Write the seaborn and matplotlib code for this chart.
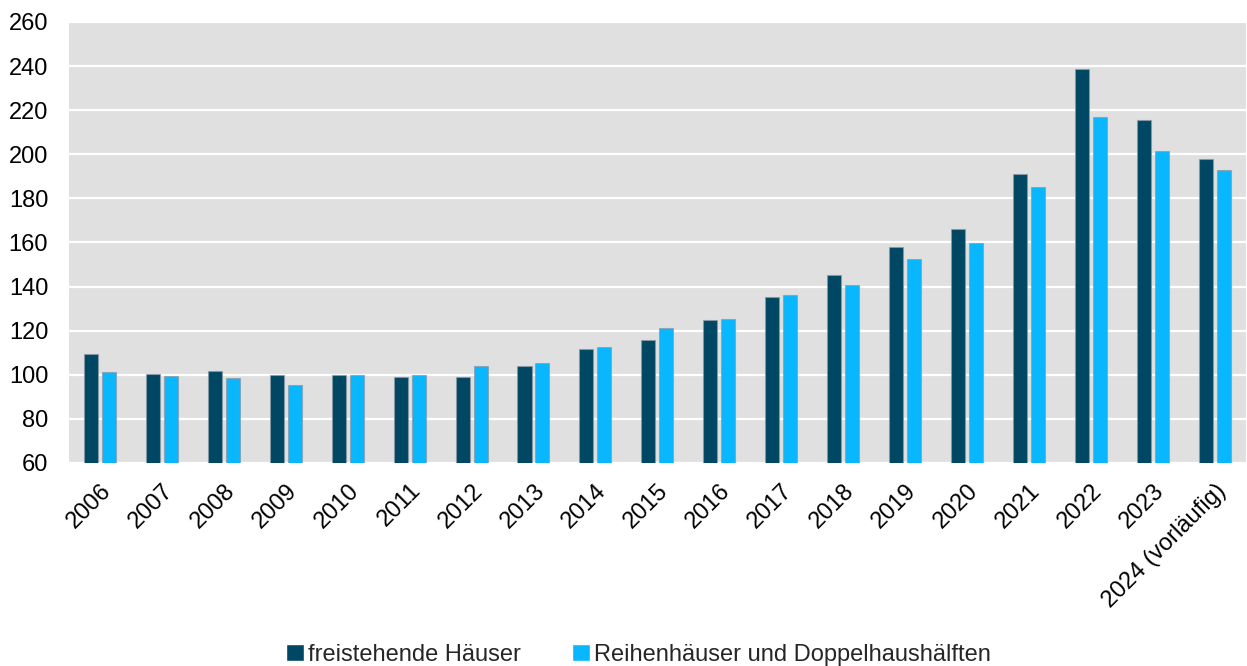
import pandas as pd
import matplotlib
matplotlib.use('Agg')
import matplotlib.pyplot as plt
import seaborn as sns
from matplotlib.patches import Patch

# Data
years = ['2006', '2007', '2008', '2009', '2010', '2011', '2012', '2013', '2014', '2015',
         '2016', '2017', '2018', '2019', '2020', '2021', '2022', '2023', '2024 (vorläufig)']
freistehend = [109.5, 100.5, 101.5, 99.8, 100.0, 98.8, 98.8, 104.0, 111.6, 115.7,
               124.9, 135.4, 145.2, 157.7, 166.1, 191.2, 238.6, 215.4, 198.0]
reihen = [101.4, 99.3, 98.5, 95.5, 100.0, 99.8, 103.8, 105.4, 112.6, 121.2,
          125.2, 136.1, 140.8, 152.5, 159.7, 185.2, 217.0, 201.4, 193.0]
series = ['freistehende Häuser', 'Reihenhäuser und Doppelhaushälften']
colors = ['#004763', '#09B7FF']

df = pd.DataFrame({
    'Jahr': years * 2,
    'Wert': freistehend + reihen,
    'Typ': [series[0]] * len(years) + [series[1]] * len(years),
})

sns.set_style('white')
plt.rcParams['font.family'] = ['Liberation Sans', 'DejaVu Sans']

fig, ax = plt.subplots(figsize=(12.47, 6.66), dpi=100)
fig.subplots_adjust(left=0.0553, right=0.999, top=0.967, bottom=0.305)

sns.barplot(data=df, x='Jahr', y='Wert', hue='Typ', palette=colors,
            width=0.58, gap=0.22, ax=ax, legend=False, saturation=1,
            edgecolor=(0.55, 0.6, 0.65, 0.7), linewidth=0.8)

ax.set_facecolor('#E0E0E0')
ax.set_ylim(60, 260)
ax.set_yticks(range(60, 261, 20))
ax.yaxis.grid(True, color='white', linewidth=1.6)
ax.set_axisbelow(True)
for s in ax.spines.values():
    s.set_visible(False)
ax.set_xlim(-0.5, len(years) - 0.5)
ax.set_xlabel('')
ax.set_ylabel('')
ax.tick_params(axis='both', length=0, labelsize=17, colors='black')
ax.tick_params(axis='y', pad=15)
ax.tick_params(axis='x', pad=12)
plt.setp(ax.get_xticklabels(), rotation=45, ha='right', rotation_mode='anchor')

# Legend
handles = [Patch(facecolor=c) for c in colors]
fig.legend(handles, series, loc='lower center', bbox_to_anchor=(0.512, -0.032), ncol=2,
           frameon=False, fontsize=17, handlelength=0.75, handleheight=0.75,
           handletextpad=0.15, columnspacing=2.2)

plt.savefig('out.png', dpi=100)
